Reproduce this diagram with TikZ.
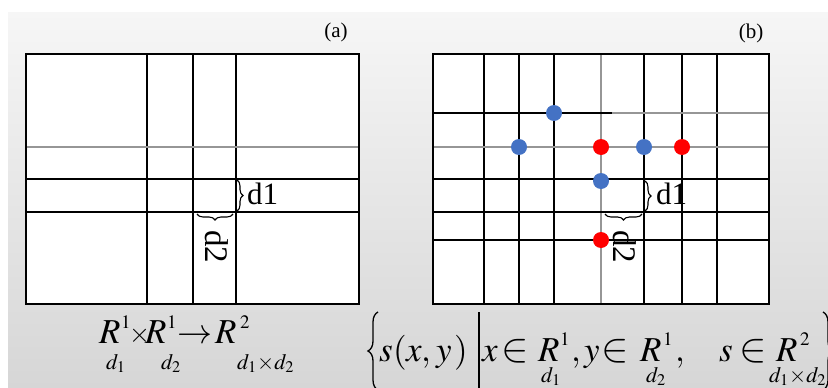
\documentclass[tikz,border=0pt]{standalone}
\usepackage{mathptmx}
\usepackage{graphicx}
\usepackage[no-math]{fontspec}
\setmainfont{Liberation Serif}
\usetikzlibrary{decorations.pathreplacing}
\newcommand{\fsz}[1]{\fontsize{#1}{#1}\selectfont}
\newcommand{\mscaled}[2]{\scalebox{#1}{\fsz{10}$#2$}}
\newcommand{\mbig}[1]{\mscaled{3.5}{#1}}
\newcommand{\mop}[1]{\mscaled{4.1}{#1}}
\newcommand{\msup}[1]{\mscaled{1.9}{#1}}
\newcommand{\msub}[1]{\mscaled{2.2}{#1}}
\definecolor{bgtop}{RGB}{246,246,246}
\definecolor{bgbot}{RGB}{214,214,214}
\definecolor{gridgray}{RGB}{150,150,150}
\definecolor{dotblue}{RGB}{68,114,196}
\definecolor{dotred}{RGB}{255,0,0}
\begin{document}
\begin{tikzpicture}[x=1pt,y=-1pt,
  every node/.style={inner sep=0pt, outer sep=0pt},
  gridline/.style={line width=1.1pt, black},
  grayline/.style={line width=1.1pt, gridgray},
  panelframe/.style={line width=2.4pt, black},
  bracestyle/.style={decorate, decoration={brace, amplitude=6pt}, line width=1.1pt},
  bigbrace/.style={decorate, decoration={brace, amplitude=10pt}, line width=1.3pt},
  ptdot/.style={circle, minimum size=16pt, inner sep=0pt},
  mb/.style={anchor=base west}]
% background
\useasboundingbox (0,0) rectangle (828,388);
\fill[white] (0,0) rectangle (828,388);
\shade[top color=bgtop, bottom color=bgbot] (8,12) rectangle (828,388);

% ---------- panel (a)
\fill[white] (26,54) rectangle (359,304);
\foreach \xx in {147,193,236} \draw[gridline] (\xx,54) -- (\xx,304);
\draw[grayline] (26,147) -- (359,147);
\foreach \yy in {179,212} \draw[gridline] (26,\yy) -- (359,\yy);
\draw[panelframe] (26,54) rectangle (359,304);
\node[font=\fsz{21}] (laba) at (336,32) {(a)};
\draw[bracestyle] (237,180) -- (237,211);
\node[mb, font=\fsz{31}] (d1a) at (247,204) {d1};
\draw[bracestyle] (233,214) -- (197,214);
\node[mb, font=\fsz{33}, rotate=-90] (d2a) at (205,230) {d2};

% ---------- panel (b)
\fill[white] (433,54) rectangle (769,304);
\foreach \xx in {484,519,554,644,682,717} \draw[gridline] (\xx,54) -- (\xx,304);
\draw[grayline] (601,54) -- (601,304);
\draw[gridline] (433,113) -- (612,113);
\draw[grayline] (612,113) -- (769,113);
\draw[grayline] (433,147) -- (769,147);
\foreach \yy in {179,212,240} \draw[gridline] (433,\yy) -- (769,\yy);
\draw[panelframe] (433,54) rectangle (769,304);
\node[font=\fsz{21}] (labb) at (751,33) {(b)};
\draw[bracestyle] (645,181) -- (645,211);
\node[mb, font=\fsz{31}] (d1b) at (656,204) {d1};
\draw[bracestyle] (642,214) -- (605,214);
\node[mb, font=\fsz{33}, rotate=-90] (d2b) at (613,230) {d2};
% dots
\node[ptdot, fill=dotblue] (pb1) at (554,113) {};
\node[ptdot, fill=dotblue] (pb2) at (519,147) {};
\node[ptdot, fill=dotblue] (pb3) at (644,147) {};
\node[ptdot, fill=dotblue] (pb4) at (601,181) {};
\node[ptdot, fill=dotred] (pr1) at (601,147) {};
\node[ptdot, fill=dotred] (pr2) at (682,147) {};
\node[ptdot, fill=dotred] (pr3) at (601,240) {};

% ---------- formula 1
\node[mb] (fa1) at (99,343) {\mbig{R}};
\node[mb] (fa2) at (121,328) {\msup{1}};
\node[mb] (fa3) at (129,342) {\mscaled{2.7}{\times}};
\node[mb] (fa4) at (145,343) {\mbig{R}};
\node[mb] (fa5) at (167,328) {\msup{1}};
\node[mb] (fa6) at (177,343) {\mscaled{3.5}{\to}};
\node[mb] (fa7) at (215,343) {\mbig{R}};
\node[mb] (fa8) at (240,328) {\msup{2}};
\node[mb] (fa9) at (106,369) {\msub{d_1}};
\node[mb] (fa10) at (161,369) {\msub{d_2}};
\node[mb] (fa11) at (237,369) {\msub{d_1{\times}d_2}};

% ---------- formula 2
\draw[bigbrace] (378,390) -- (378,312);
\node[mb] (fb1) at (379,361) {\mbig{s}};
\node[mb] (fb2) at (393,361) {\mbig{(}};
\node[mb] (fb3) at (406,361) {\mbig{x}};
\node[mb] (fb4) at (421,361) {\mbig{,}};
\node[mb] (fb5) at (436,361) {\mbig{y}};
\node[mb] (fb6) at (454,361) {\mbig{)}};
\draw[line width=1.3pt] (479,312) -- (479,390);
\node[mb] (fb7) at (482,361) {\mbig{x}};
\node[mb] (fb8) at (501,361) {\mop{\in}};
\node[mb] (fb9) at (538,361) {\mbig{R}};
\node[mb] (fb10) at (560,345) {\msup{1}};
\node[mb] (fb11) at (541,382) {\msub{d_1}};
\node[mb] (fb12) at (571,361) {\mbig{,}};
\node[mb] (fb13) at (584,361) {\mbig{y}};
\node[mb] (fb14) at (601,361) {\mop{\in}};
\node[mb] (fb15) at (640,361) {\mbig{R}};
\node[mb] (fb16) at (663,345) {\msup{1}};
\node[mb] (fb17) at (646,382) {\msub{d_2}};
\node[mb] (fb18) at (675,361) {\mbig{,}};
\node[mb] (fb19) at (719,361) {\mbig{s}};
\node[mb] (fb20) at (739,361) {\mop{\in}};
\node[mb] (fb21) at (776,361) {\mbig{R}};
\node[mb] (fb22) at (800,345) {\msup{2}};
\node[mb] (fb23) at (769,382) {\msub{d_1{\times}d_2}};
\draw[bigbrace] (823,312) -- (823,390);
\end{tikzpicture}
\end{document}
